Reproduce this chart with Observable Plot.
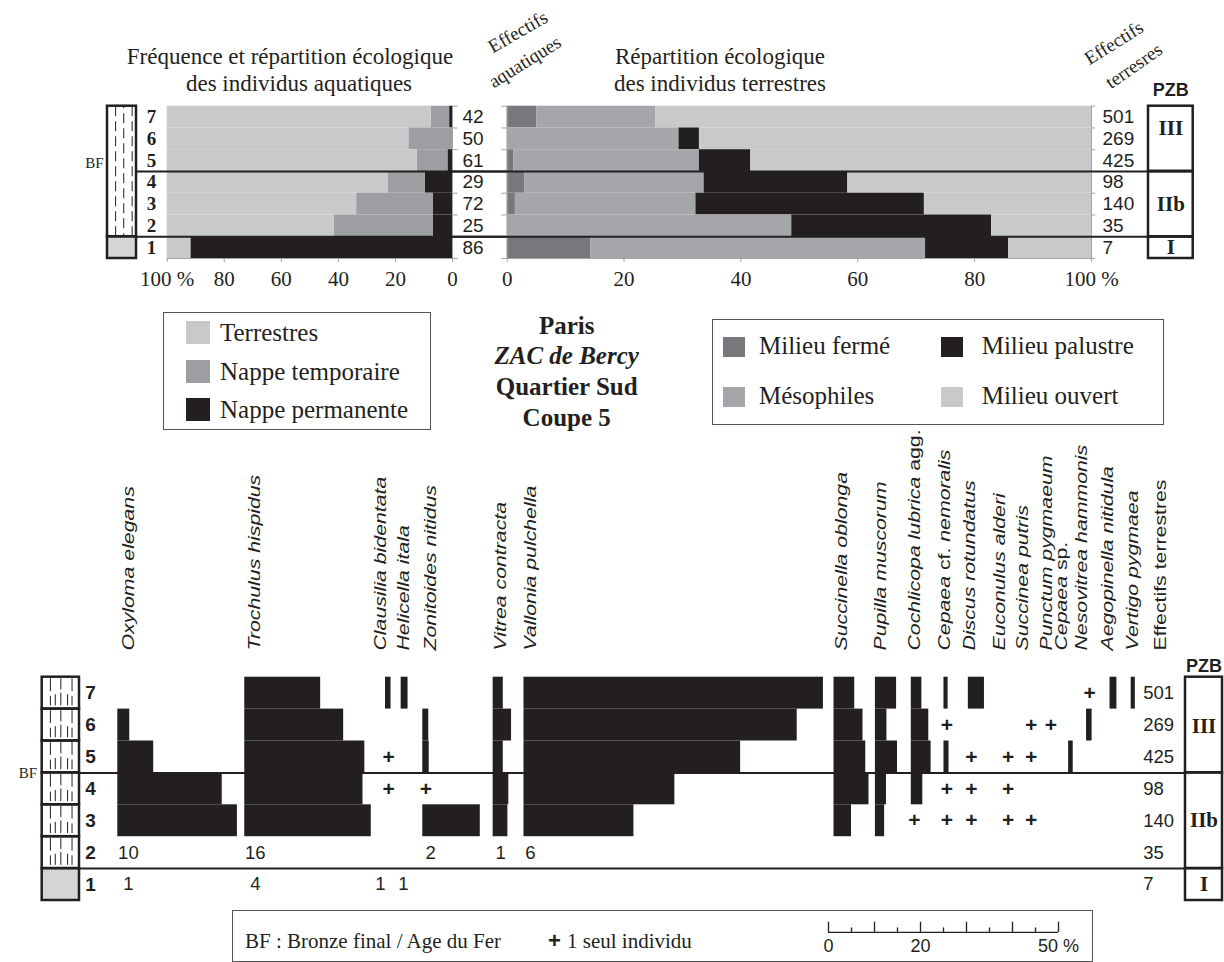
<!DOCTYPE html>
<html lang="fr">
<head>
<meta charset="utf-8">
<script src="https://cdn.jsdelivr.net/npm/d3@7"></script>
<script src="https://cdn.jsdelivr.net/npm/@observablehq/plot@0.6"></script>
<style>
html,body{margin:0;padding:0;background:#fff;}
#root{position:relative;width:1224px;height:962px;overflow:hidden;background:#fff;color:#231f20;}
#root svg{position:absolute;left:0;top:0;}
#root .abs{position:absolute;white-space:nowrap;line-height:1;}
</style>
</head>
<body>
<div id="root"></div>
<script>
// ================= DATA =================
const levels = [7, 6, 5, 4, 3, 2, 1];

// Aquatic individuals (% per level, top to bottom)
const aquaticCategories = ["Nappe permanente", "Nappe temporaire", "Terrestres"];
const aquaticPermanente = [1.0, 0, 1.6, 9.5, 6.8, 6.8, 91.7];
const aquaticTemporaire = [6.5, 15.3, 10.8, 13.1, 26.8, 34.7, 0];
const aquaticTerrestres = [92.5, 84.7, 87.6, 77.4, 66.4, 58.5, 8.3];
const aquaticCounts = [42, 50, 61, 29, 72, 25, 86];

// Terrestrial individuals (% per level)
const terrCategories = ["Milieu fermé", "Mésophiles", "Milieu palustre", "Milieu ouvert"];
const terrFerme = [5.1, 0, 1.1, 3.0, 1.4, 0, 14.3];
const terrMesophiles = [20.3, 29.4, 31.8, 30.7, 30.9, 48.7, 57.3];
const terrPalustre = [0, 3.5, 8.8, 24.6, 39.1, 34.2, 14.2];
const terrOuvert = [74.6, 67.1, 58.3, 41.7, 28.6, 17.1, 14.2];
const terrCounts = [501, 269, 425, 98, 140, 35, 7];

// PZB zones
const pzbNames = ["III", "IIb", "I"];
const pzbTopLevel = [7, 4, 1];
const pzbBottomLevel = [5, 2, 1];

// Species (bottom diagram)
const species = ["Oxyloma elegans", "Trochulus hispidus", "Clausilia bidentata", "Helicella itala",
  "Zonitoides nitidus", "Vitrea contracta", "Vallonia pulchella", "Succinella oblonga",
  "Pupilla muscorum", "Cochlicopa lubrica agg.", "Cepaea cf. nemoralis", "Discus rotundatus",
  "Euconulus alderi", "Succinea putris", "Punctum pygmaeum", "Cepaea sp.",
  "Nesovitrea hammonis", "Aegopinella nitidula", "Vertigo pygmaea"];
// % of terrestrial individuals, levels 7..3 (0 = absent)
const pct7 = [0, 16.5, 1.2, 1.5, 0, 2.2, 65.1, 4.5, 4.6, 2.3, 0.9, 3.5, 0, 0, 0, 0, 0, 1.5, 0.9];
const pct6 = [2.6, 21.5, 0, 0, 1.3, 4.0, 59.4, 6.3, 2.5, 3.8, 0, 0, 0, 0, 0, 0, 1.2, 0, 0];
const pct5 = [7.8, 26.1, 0, 0, 1.4, 2.2, 47.1, 6.9, 4.8, 4.3, 1.1, 0, 0, 0, 0, 1.0, 0, 0, 0];
const pct4 = [22.7, 25.7, 0, 0, 0, 3.4, 32.8, 7.6, 2.4, 2.5, 0, 0, 0, 0, 0, 0, 0, 0, 0];
const pct3 = [26.0, 27.5, 0, 0, 12.5, 3.2, 23.9, 3.8, 2.0, 0, 0, 0, 0, 0, 0, 0, 0, 0, 0];
// single individuals ("+")
const single7 = ["Nesovitrea hammonis"];
const single6 = ["Cepaea cf. nemoralis", "Succinea putris", "Punctum pygmaeum"];
const single5 = ["Clausilia bidentata", "Discus rotundatus", "Euconulus alderi", "Succinea putris"];
const single4 = ["Clausilia bidentata", "Zonitoides nitidus", "Cepaea cf. nemoralis", "Discus rotundatus", "Euconulus alderi"];
const single3 = ["Cochlicopa lubrica agg.", "Cepaea cf. nemoralis", "Discus rotundatus", "Euconulus alderi", "Succinea putris"];
// raw counts for small levels
const count2 = [10, 16, null, null, 2, 1, 6, null, null, null, null, null, null, null, null, null, null, null, null];
const count1 = [1, 4, 1, 1, null, null, null, null, null, null, null, null, null, null, null, null, null, null, null];
const scaleTicks = [0, 5, 10, 15, 20, 25, 30, 35, 40, 45, 50];
const scaleLabels = [0, 20, 50];

// ================= LAYOUT / STYLE =================
const W = 1224;
const SERIF = "'Liberation Serif', 'Times New Roman', serif";
const SANS = "'Liberation Sans', Arial, sans-serif";
const INK = "#231f20";
const AXIS = "#a3a3a3";
const aquaticColors = ["#231f20", "#9d9ea2", "#c8c9cb"];
const terrColors = ["#77787b", "#a5a6aa", "#231f20", "#c8c9cb"];
const lithoGray = "#d4d5d7";
// bottom diagram: column offsets along the percent axis
const colStart = [25.5, 53.1, 83.7, 87.1, 91.8, 107.1, 113.8, 181.2, 190.2, 198.0, 205.1, 210.4, 218.4, 223.4, 227.7, 232.2, 236.1, 241.2, 245.8];
const colLabel = [27.8, 55.4, 82.6, 87.6, 93.5, 108.7, 115.2, 183.0, 191.3, 198.7, 205.2, 210.7, 217.2, 222.3, 227.5, 230.8, 235.0, 240.8, 246.2];
const PX_PER_PCT = 4.6;

const root = document.getElementById("root");
const boundaries = pzbBottomLevel.slice(0, -1).map(b => b - 1); // [4, 1]

function svgStyle() {
  return {background: "transparent", overflow: "visible", fontFamily: SERIF, color: INK};
}
function mount(el) { root.appendChild(el); return el; }

function stackRows(cols, cats) {
  const out = [];
  levels.forEach((lv, i) => {
    let acc = 0;
    cols.forEach((arr, k) => {
      const v = arr[i];
      if (v > 0) out.push({level: lv, cat: cats[k], x1: acc, x2: acc + v});
      acc += v;
    });
  });
  return out;
}

// ---------- Top: aquatic panel ----------
const TOP = {h: 300, mt: 105.7, mb: 42};
const aqSegs = stackRows([aquaticPermanente, aquaticTemporaire, aquaticTerrestres], aquaticCategories);
mount(Plot.plot({
  width: W, height: TOP.h,
  marginLeft: 166.7, marginRight: W - 452, marginTop: TOP.mt, marginBottom: TOP.mb,
  x: {domain: [100, 0], axis: null},
  y: {domain: [0, 7], axis: null},
  color: {domain: aquaticCategories, range: aquaticColors},
  style: svgStyle(),
  marks: [
    Plot.rect(aqSegs, {x1: "x1", x2: "x2", y1: d => d.level - 1, y2: d => d.level, fill: "cat"}),
    Plot.ruleX([0], {y1: 0, y2: 7, stroke: AXIS}),
    Plot.ruleY(d3.range(0, 8), {x1: 0, x2: -2, stroke: AXIS}),
    Plot.ruleY([0], {x1: 100, x2: 0, stroke: AXIS}),
    Plot.axisX({ticks: [100, 80, 60, 40, 20, 0], tickFormat: d => d === 100 ? "100 %" : String(d),
      tickSize: 4, tickPadding: 9, fontSize: 21, stroke: AXIS, fill: INK, label: null}),
    Plot.text(levels, {x: 0, y: d => d - 0.5, dx: 10, text: (d, i) => String(aquaticCounts[i]),
      textAnchor: "start", fontFamily: SANS, fontSize: 19, fill: INK}),
    Plot.ruleY(boundaries, {x1: 110.6, x2: -19.3, stroke: INK, strokeWidth: 2})
  ]
}));

// ---------- Top: terrestrial panel ----------
const teSegs = stackRows([terrFerme, terrMesophiles, terrPalustre, terrOuvert], terrCategories);
mount(Plot.plot({
  width: W, height: TOP.h,
  marginLeft: 506.7, marginRight: W - 1091, marginTop: TOP.mt, marginBottom: TOP.mb,
  x: {domain: [0, 100], axis: null},
  y: {domain: [0, 7], axis: null},
  color: {domain: terrCategories, range: terrColors},
  style: svgStyle(),
  marks: [
    Plot.rect(teSegs, {x1: "x1", x2: "x2", y1: d => d.level - 1, y2: d => d.level, fill: "cat"}),
    Plot.ruleX([0, 100], {y1: 0, y2: 7, stroke: AXIS}),
    Plot.ruleY(d3.range(0, 8), {x1: 0, x2: -0.9, stroke: AXIS}),
    Plot.ruleY(d3.range(0, 8), {x1: 100, x2: 100.7, stroke: AXIS}),
    Plot.ruleY([0], {x1: 0, x2: 100, stroke: AXIS}),
    Plot.axisX({ticks: [0, 20, 40, 60, 80, 100], tickFormat: d => d === 100 ? "100 %" : String(d),
      tickSize: 4, tickPadding: 9, fontSize: 21, stroke: AXIS, fill: INK, label: null}),
    Plot.text(levels, {x: 100, y: d => d - 0.5, dx: 11, text: (d, i) => String(terrCounts[i]),
      textAnchor: "start", fontFamily: SANS, fontSize: 19, fill: INK}),
    Plot.ruleY(boundaries, {x1: -9.4, x2: 117.6, stroke: INK, strokeWidth: 2})
  ]
}));

// ---------- Top: stratigraphic column ----------
const lithoUpper = levels.filter(l => l > 1);
mount(Plot.plot({
  width: W, height: TOP.h,
  marginLeft: 107, marginRight: W - 136, marginTop: TOP.mt, marginBottom: TOP.mb,
  x: {domain: [0, 1], axis: null}, y: {domain: [0, 7], axis: null},
  style: svgStyle(),
  marks: [
    Plot.rect([1], {x1: 0, x2: 1, y1: 1, y2: 7, fill: "white"}),
    Plot.rect([1], {x1: 0, x2: 1, y1: 0, y2: 1, fill: lithoGray}),
    Plot.ruleX([0.28, 0.85], {y1: 1, y2: 7, stroke: INK, strokeWidth: 1, strokeDasharray: "10,5"}),
    Plot.ruleX([0.56], {y1: 1, y2: 7, stroke: INK, strokeWidth: 1, strokeDasharray: "10,5", strokeDashoffset: 7}),
    Plot.rect([1], {x1: 0, x2: 1, y1: 1, y2: 7, fill: "none", stroke: INK, strokeWidth: 2.5}),
    Plot.rect([1], {x1: 0, x2: 1, y1: 0, y2: 1, fill: "none", stroke: INK, strokeWidth: 2.5}),
    Plot.text(["BF"], {x: 0, y: 4.4, dx: -4, textAnchor: "end", fontSize: 15, fontFamily: SERIF, fill: INK}),
    Plot.text(levels, {x: 1, y: d => d - 0.5, dx: 15, text: d => String(d), fontWeight: "bold",
      fontSize: 19, fontFamily: SERIF, fill: INK})
  ]
}));

// ---------- Top: PZB ----------
mount(Plot.plot({
  width: W, height: TOP.h,
  marginLeft: 1148, marginRight: W - 1192.7, marginTop: TOP.mt, marginBottom: TOP.mb,
  x: {domain: [0, 1], axis: null}, y: {domain: [0, 7], axis: null},
  style: svgStyle(),
  marks: [
    Plot.rect(pzbNames, {x1: 0, x2: 1, y1: (d, i) => pzbBottomLevel[i] - 1, y2: (d, i) => pzbTopLevel[i],
      fill: "none", stroke: INK, strokeWidth: 2.5}),
    Plot.text(pzbNames, {x: 0.5, y: (d, i) => [6.0, 2.5, 0.5][i], text: d => d, fontWeight: "bold",
      fontSize: 21, fontFamily: SERIF, fill: INK}),
    Plot.text(["PZB"], {x: 0.5, y: 7, dy: -16, fontWeight: "bold", fontSize: 18, fontFamily: SANS, fill: INK})
  ]
}));

// ---------- Bottom diagram ----------
const BOT = {h: 962, mt: 676.7, mb: 62};
const pctByLevel = {7: pct7, 6: pct6, 5: pct5, 4: pct4, 3: pct3};
const singleByLevel = {7: single7, 6: single6, 5: single5, 4: single4, 3: single3};
const bars = [], singles = [], counts = [];
for (const lv of [7, 6, 5, 4, 3]) {
  pctByLevel[lv].forEach((v, i) => { if (v > 0) bars.push({i, level: lv, v}); });
  singleByLevel[lv].forEach(name => singles.push({i: species.indexOf(name), level: lv}));
}
count2.forEach((c, i) => { if (c != null) counts.push({i, level: 2, c}); });
count1.forEach((c, i) => { if (c != null) counts.push({i, level: 1, c}); });
const scaleStart = 180;

const bottom = mount(Plot.plot({
  width: W, height: BOT.h,
  marginLeft: 0, marginRight: 0, marginTop: BOT.mt, marginBottom: BOT.mb,
  x: {domain: [0, W / PX_PER_PCT], axis: null},
  y: {domain: [0, 7], axis: null},
  style: svgStyle(),
  marks: [
    Plot.rect(bars, {x1: d => colStart[d.i], x2: d => colStart[d.i] + d.v, y1: d => d.level - 1, y2: d => d.level, fill: INK}),
    Plot.text(singles, {x: d => colStart[d.i] + 0.65, y: d => d.level - 0.5, text: () => "+",
      fontFamily: SANS, fontWeight: "bold", fontSize: 21, fill: INK}),
    Plot.text(counts, {x: d => colLabel[d.i], y: d => d.level - 0.5, text: d => String(d.c),
      fontFamily: SANS, fontSize: 18.5, fill: INK}),
    Plot.text(species, {x: (d, i) => colLabel[i], y: 7, dy: -26.7, text: d => d, rotate: -90,
      textAnchor: "start", lineAnchor: "middle", fontFamily: SANS, fontStyle: "italic", fontSize: 16, fill: INK}),
    Plot.text(["Effectifs terrestres"], {x: 252.3, y: 7, dy: -26.7, rotate: -90,
      textAnchor: "start", lineAnchor: "middle", fontFamily: SANS, fontSize: 16, fill: INK}),
    Plot.text(levels, {x: 248.4, y: d => d - 0.5, text: (d, i) => String(terrCounts[i]),
      textAnchor: "start", fontFamily: SANS, fontSize: 18.5, fill: INK}),
    Plot.ruleY(boundaries, {x1: 17.4, x2: 257.6, stroke: INK, strokeWidth: 2}),
    // scale bar of the legend (same percent scale as the bars)
    Plot.ruleY([-1], {x1: scaleStart, x2: scaleStart + 50, stroke: INK, strokeWidth: 1.3}),
    Plot.ruleX(scaleTicks, {x: d => scaleStart + d, y1: -1, y2: d => d % 10 === 0 ? -0.68 : -0.86, stroke: INK, strokeWidth: 1.3}),
    Plot.text(scaleLabels, {x: d => scaleStart + d, y: -1, dy: 14, text: d => d === 50 ? "50 %" : String(d),
      fontFamily: SANS, fontSize: 18, fill: INK, dx: 0})
  ]
}));

// ---------- Bottom: stratigraphic column ----------
const dashPattern = [];
lithoUpper.forEach(lv => {
  [[0.22, 0.55, 0.95], [0.5, 0.1, 0.5], [0.8, 0.55, 0.95], [0.35, 0.1, 0.45], [0.68, 0.1, 0.45]].forEach(([x, a, b]) =>
    dashPattern.push({x, y1: lv - 1 + a, y2: lv - 1 + b}));
  [[0.22, 0.1, 0.4], [0.8, 0.1, 0.4], [0.5, 0.6, 0.95]].forEach(([x, a, b]) =>
    dashPattern.push({x, y1: lv - 1 + a, y2: lv - 1 + b}));
});
mount(Plot.plot({
  width: W, height: BOT.h,
  marginLeft: 41.7, marginRight: W - 79, marginTop: BOT.mt, marginBottom: BOT.mb,
  x: {domain: [0, 1], axis: null}, y: {domain: [0, 7], axis: null},
  style: svgStyle(),
  marks: [
    Plot.rect(levels, {x1: 0, x2: 1, y1: d => d - 1, y2: d => d, fill: d => d === 1 ? lithoGray : "white"}),
    Plot.ruleX(dashPattern, {x: "x", y1: "y1", y2: "y2", stroke: INK, strokeWidth: 1}),
    Plot.rect(levels, {x1: 0, x2: 1, y1: d => d - 1, y2: d => d, fill: "none", stroke: INK, strokeWidth: 2.5}),
    Plot.text(["BF"], {x: 0, y: 4.0, dx: -5, textAnchor: "end", fontSize: 15, fontFamily: SERIF, fill: INK}),
    Plot.text(levels, {x: 1, y: d => d - 0.5, dx: 11, text: d => String(d), fontWeight: "bold",
      fontSize: 19, fontFamily: SANS, fill: INK})
  ]
}));

// ---------- Bottom: PZB ----------
mount(Plot.plot({
  width: W, height: BOT.h,
  marginLeft: 1185, marginRight: 2, marginTop: BOT.mt, marginBottom: BOT.mb,
  x: {domain: [0, 1], axis: null}, y: {domain: [0, 7], axis: null},
  style: svgStyle(),
  marks: [
    Plot.rect(pzbNames, {x1: 0, x2: 1, y1: (d, i) => pzbBottomLevel[i] - 1, y2: (d, i) => pzbTopLevel[i],
      fill: "none", stroke: INK, strokeWidth: 2.5}),
    Plot.text(pzbNames, {x: 0.5, y: (d, i) => [5.45, 2.5, 0.5][i], text: d => d, fontWeight: "bold",
      fontSize: 21, fontFamily: SERIF, fill: INK}),
    Plot.text(["PZB"], {x: 0.5, y: 7, dy: -11, fontWeight: "bold", fontSize: 18, fontFamily: SANS, fill: INK})
  ]
}));

// ---------- post-processing of rotated species labels ----------
const NS = "http://www.w3.org/2000/svg";
const upright = {"Cochlicopa lubrica agg.": ["Cochlicopa lubrica ", "agg.", ""],
  "Cepaea cf. nemoralis": ["Cepaea ", "cf.", " nemoralis"], "Cepaea sp.": ["Cepaea ", "sp.", ""]};
bottom.querySelectorAll("text").forEach(t => {
  const tr = t.getAttribute("transform") || "";
  if (tr.includes("rotate(-90)")) t.setAttribute("transform", tr + " scale(1.33,1)");
  const parts = upright[t.textContent];
  if (parts) {
    t.textContent = "";
    parts.forEach((p, k) => {
      if (!p) return;
      const s = document.createElementNS(NS, "tspan");
      s.textContent = p;
      if (k === 1) s.setAttribute("font-style", "normal");
      t.appendChild(s);
    });
  }
});

// ================= HTML text, legends =================
function label(txt, x, baseline, o = {}) {
  const size = o.size || 22;
  const d = document.createElement("div");
  d.className = "abs";
  d.innerHTML = txt;
  d.style.font = `${o.italic ? "italic " : ""}${o.weight || "normal"} ${size}px ${o.family || SERIF}`;
  d.style.top = (baseline - 0.84 * size) + "px";
  d.style.left = x + "px";
  if ((o.anchor || "middle") === "middle") d.style.transform = "translateX(-50%)";
  d.style.color = INK;
  root.appendChild(d);
  return d;
}
function rotLabel(txt, cx, cy, angle, size) {
  const d = document.createElement("div");
  d.className = "abs";
  d.textContent = txt;
  d.style.font = `normal ${size}px ${SERIF}`;
  d.style.left = cx + "px"; d.style.top = cy + "px";
  d.style.transform = `translate(-50%,-50%) rotate(${angle}deg)`;
  d.style.color = INK;
  root.appendChild(d);
}
function box(x, y, w, h, color = "#555") {
  const d = document.createElement("div");
  d.className = "abs";
  Object.assign(d.style, {left: x + "px", top: y + "px", width: w + "px", height: h + "px",
    border: `1.5px solid ${color}`, boxSizing: "border-box"});
  root.appendChild(d);
}
function swatch(x, y, w, h, color) {
  const d = document.createElement("div");
  d.className = "abs";
  Object.assign(d.style, {left: x + "px", top: y + "px", width: w + "px", height: h + "px", background: color});
  root.appendChild(d);
}

// titles
label("Fréquence et répartition écologique", 290, 63, {size: 23});
label("des individus aquatiques", 299, 90, {size: 23});
label("Répartition écologique", 720, 63, {size: 23});
label("des individus terrestres", 720, 90, {size: 23});
rotLabel("Effectifs", 518, 32, -30, 19);
rotLabel("aquatiques", 525, 62, -32, 19);
rotLabel("Effectifs", 1114, 43, -32, 19);
rotLabel("terresres", 1134, 66, -35, 19);

// aquatic legend
box(163, 312, 268, 118);
[...aquaticCategories].reverse().forEach((cat, k) => {
  const col = aquaticColors[aquaticCategories.indexOf(cat)];
  swatch(186, 321 + k * 38.5, 24, 23, col);
  label(cat, 220, 340 + k * 38.5, {size: 25, anchor: "start"});
});

// terrestrial legend
box(711.7, 319, 452.6, 106);
const terrLegendOrder = ["Milieu fermé", "Milieu palustre", "Mésophiles", "Milieu ouvert"];
terrLegendOrder.forEach((cat, k) => {
  const col = terrColors[terrCategories.indexOf(cat)];
  const cx = k % 2 === 0 ? 723 : 940.7;
  const tx = k % 2 === 0 ? 759 : 981.7;
  const row = Math.floor(k / 2);
  swatch(cx, 336.7 + row * 50, 22, 20, col);
  label(cat, tx, 353 + row * 50, {size: 25, anchor: "start"});
});

// site
label("Paris", 566.7, 333, {size: 25, weight: "bold"});
label("ZAC de Bercy", 566.7, 363, {size: 25, weight: "bold", italic: true});
label("Quartier Sud", 566.7, 394, {size: 25, weight: "bold"});
label("Coupe 5", 566.7, 425, {size: 25, weight: "bold"});

// bottom legend
box(232, 910, 861, 52);
label("BF : Bronze final / Age du Fer", 245, 947, {size: 21, anchor: "start"});
label("+", 548, 946, {size: 22, anchor: "start", weight: "bold", family: SANS});
label("1 seul individu", 567, 947, {size: 21, anchor: "start"});
</script>
</body>
</html>
